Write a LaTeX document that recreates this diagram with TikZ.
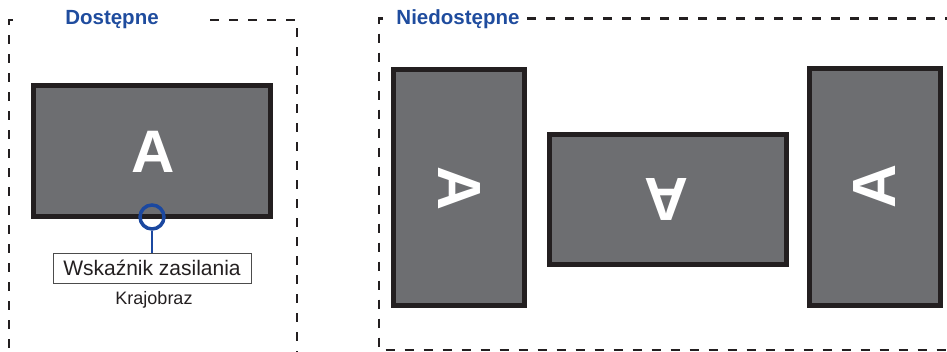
\documentclass[tikz,border=0pt]{standalone}
\usepackage{fontspec}
\setmainfont{Liberation Sans}
\definecolor{frame}{HTML}{231F20}
\definecolor{screen}{HTML}{6D6E71}
\definecolor{titleblue}{HTML}{1F4C9E}
\definecolor{ledblue}{HTML}{1B48A0}
\tikzset{
  monitor/.style={rectangle, draw=frame, fill=screen, line width=5pt, inner sep=0pt, outer sep=0pt},
  glyph/.style={text=white, font=\fontsize{61}{61}\selectfont\bfseries, inner sep=0pt},
  dashbox/.style={draw=frame, line width=2.8pt, dash pattern=on 9pt off 10pt},
  paneltitle/.style={text=titleblue, font=\fontsize{20.5}{24}\selectfont\bfseries, inner sep=0pt},
}
\begin{document}
\begin{tikzpicture}[x=1pt, y=-1pt]
\useasboundingbox (0,0) rectangle (947,351);
% panels
\draw[dashbox] (13,20) -- (9,20) -- (9,365);
\draw[dashbox] (210,20) -- (297,20) -- (297,365);
\draw[dashbox] (383,18.5) -- (379,18.5) -- (379,350) -- (960,350);
\draw[dashbox] (527,18.5) -- (960,18.5);
\node[paneltitle] (t1) at (112,20) {Dostępne};
\node[paneltitle] (t2) at (458,19) {Niedostępne};
% landscape (available)
\node[monitor, minimum width=237pt, minimum height=131pt] (m1) at (152,151) {};
\node[glyph, font=\fontsize{60}{60}\selectfont\bfseries] (a1) at (153,152) {A};
\node[circle, draw=ledblue, line width=3.5pt, minimum size=24pt, inner sep=0pt] (led) at (152,217) {};
\node[draw=black!70, line width=0.8pt, minimum width=198pt, minimum height=30pt, inner sep=0pt, font=\fontsize{21}{24}\selectfont, text=frame] (lbl) at (152,268) {Wskaźnik zasilania};
\draw[ledblue, line width=2.2pt] (led.south) -- (lbl.north);
\node[font=\fontsize{18}{20}\selectfont, text=frame] (cap) at (154,300) {Krajobraz};
% not available
\node[monitor, minimum width=131pt, minimum height=236pt] (m2) at (459,187.5) {};
\node[glyph, rotate=-90] (a2) at (459,188.5) {A};
\node[monitor, minimum width=237pt, minimum height=130pt] (m3) at (668,199.5) {};
\node[glyph, rotate=180] (a3) at (666.5,199.5) {A};
\node[monitor, minimum width=131pt, minimum height=237pt] (m4) at (874.5,187) {};
\node[glyph, rotate=90] (a4) at (874.5,186) {A};
\end{tikzpicture}
\end{document}
